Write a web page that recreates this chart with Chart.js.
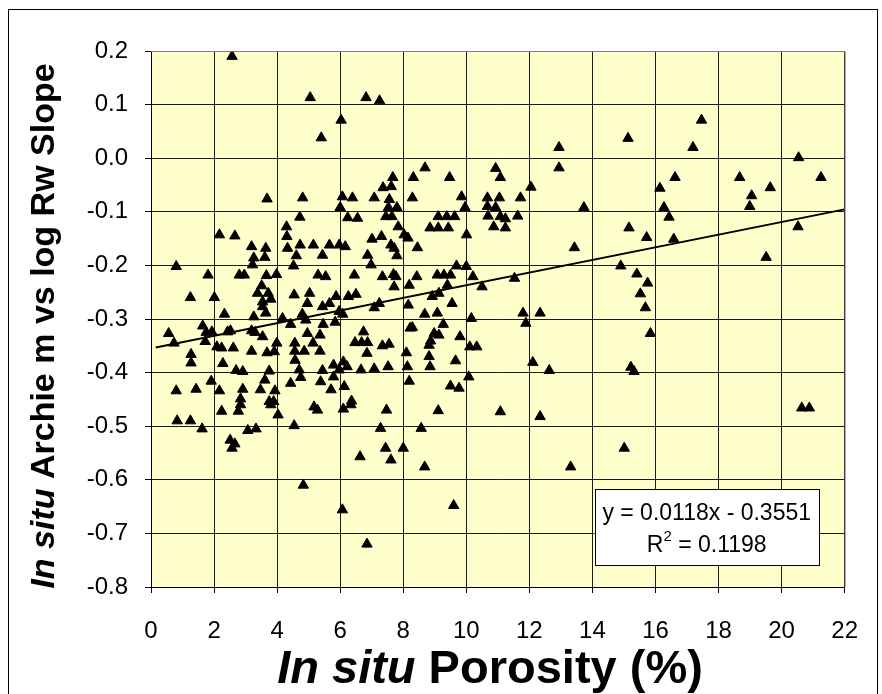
<!DOCTYPE html>
<html>
<head>
<meta charset="utf-8">
<title>In situ Archie m vs log Rw slope</title>
<script src="https://cdn.jsdelivr.net/npm/chart.js@4.4.1/dist/chart.umd.min.js"></script>
<style>
  html, body { margin: 0; padding: 0; background: #fff; }
  #wrap { position: relative; width: 882px; height: 694px; }
</style>
</head>
<body>
<div id="wrap"><canvas id="chart" width="882" height="694"></canvas></div>
<script>
/* data */
const porosity = [
  2.57, 5.05, 5.40, 3.68, 4.81, 4.72, 4.30,
  6.82, 7.25, 6.03, 8.69, 7.67, 8.32, 9.47, 10.93, 11.08, 7.36,
  7.62, 6.07, 6.39, 7.08, 7.56, 8.29, 9.85, 10.67, 11.05, 6.00,
  7.53, 7.80, 9.96, 10.67, 10.93, 6.24, 6.55, 7.45, 7.64, 9.11,
  9.38, 9.63, 10.69, 11.08,
  12.94, 15.13, 12.94, 12.05, 16.14, 16.62, 11.72, 13.73, 11.63, 11.24, 16.27, 16.43,
  17.46, 17.19, 20.54, 18.67, 19.64, 19.05, 18.99, 21.25, 20.52, 19.51, 20.64, 20.88,
  11.24, 13.43, 15.16, 15.72, 16.58, 14.90, 15.41, 15.75, 15.52, 15.68,
  15.84, 11.53, 11.80, 12.34, 11.89, 12.11, 12.63, 15.22, 15.32,
  11.08, 12.34, 15.01, 13.31, 6.10, 6.34, 7.47, 9.11, 7.28, 8.57,
  7.44, 8.00, 6.63, 7.61, 8.68, 6.07, 9.60, 6.85,
  0.83, 1.25, 1.62, 2.24, 2.77, 2.84, 3.80, 4.03, 4.54, 5.17,
  5.28, 3.07, 3.33, 2.51, 2.66, 2.57, 4.83,
  2.17, 2.66, 4.31, 3.19, 3.64, 4.33, 4.73, 5.15, 5.44, 3.26,
  3.61, 4.61, 3.22, 4.52, 0.80, 1.81, 2.80, 2.96, 3.66, 3.98,
  5.30, 5.54, 3.51, 1.25, 2.01, 3.38, 3.72, 4.54, 5.03, 3.54,
  3.80, 4.96, 5.44, 3.54, 3.64, 2.33, 3.26, 4.17, 4.80, 4.91,
  4.43, 5.46, 1.64, 0.56, 1.75, 1.93, 2.43, 2.52, 3.19, 3.30,
  3.54, 4.96, 5.36, 0.73, 1.72, 2.09, 2.24, 2.61, 3.99, 4.56,
  5.14, 3.19, 3.68, 3.91, 4.56, 4.86, 5.36, 1.27, 1.27, 4.57,
  2.28, 4.70, 2.70, 2.91, 3.75, 5.44, 4.75, 3.61, 1.91, 4.43,
  5.38, 0.80, 1.43, 2.17, 2.91, 3.47, 3.93, 2.84, 3.75, 3.89,
  7.84, 8.85, 9.11, 9.43, 10.87, 10.01, 7.01, 7.31, 8.03, 8.15,
  5.66, 5.97, 6.16, 7.61, 7.71, 8.45, 6.87, 7.80, 6.98, 9.69,
  10.00, 6.45, 7.34, 7.69, 7.77, 8.43, 9.08, 9.29, 9.50, 10.21,
  7.71, 8.19, 9.40, 10.50, 5.87, 6.26, 6.50, 5.66, 9.13, 8.92,
  7.24, 7.08, 8.16, 9.55, 5.97, 6.08, 8.68, 9.08, 5.84, 10.16,
  9.27, 6.74, 8.22, 8.29, 8.98, 9.13, 9.80, 6.47, 6.68, 6.87,
  8.87, 7.34, 7.55, 10.11, 10.33, 8.82, 6.85, 8.10, 8.82, 9.66,
  5.79, 6.10, 6.22, 5.97, 6.66, 7.08, 7.52, 8.13, 8.85, 5.79,
  10.08, 8.19, 6.13, 9.50, 9.77, 5.71, 6.36
];

const archieSlope = [
  0.190, 0.113, 0.038, -0.076, -0.074, -0.110, -0.128,
  0.113, 0.107, 0.071, -0.018, -0.036, -0.036, -0.036, -0.019, -0.036, -0.055,
  -0.053, -0.072, -0.074, -0.074, -0.077, -0.074, -0.072, -0.074, -0.074, -0.092,
  -0.092, -0.092, -0.092, -0.090, -0.092, -0.111, -0.112, -0.109, -0.109, -0.109,
  -0.109, -0.109, -0.108, -0.109,
  0.020, 0.037, -0.018, -0.054, -0.056, -0.036, -0.074, -0.092, -0.108, -0.113, -0.092, -0.110,
  0.071, 0.020, 0.001, -0.036, -0.055, -0.070, -0.090, -0.036, -0.128, -0.185, -0.466, -0.466,
  -0.130, -0.167, -0.130, -0.148, -0.151, -0.201, -0.216, -0.233, -0.253, -0.279,
  -0.327, -0.224, -0.289, -0.289, -0.308, -0.381, -0.396, -0.390, -0.398,
  -0.473, -0.482, -0.541, -0.576, -0.468, -0.460, -0.470, -0.471, -0.504, -0.504,
  -0.541, -0.541, -0.557, -0.563, -0.576, -0.656, -0.648, -0.720,
  -0.490, -0.490, -0.505, -0.472, -0.472, -0.460, -0.460, -0.479, -0.499, -0.464,
  -0.470, -0.508, -0.505, -0.526, -0.533, -0.541, -0.610,
  -0.143, -0.145, -0.146, -0.165, -0.168, -0.168, -0.162, -0.162, -0.181, -0.186,
  -0.185, -0.182, -0.199, -0.201, -0.202, -0.218, -0.218, -0.218, -0.219, -0.217,
  -0.218, -0.221, -0.238, -0.260, -0.260, -0.252, -0.252, -0.255, -0.252, -0.268,
  -0.263, -0.271, -0.277, -0.277, -0.289, -0.291, -0.296, -0.299, -0.291, -0.302,
  -0.310, -0.310, -0.313, -0.327, -0.325, -0.324, -0.324, -0.322, -0.322, -0.325,
  -0.333, -0.327, -0.330, -0.345, -0.342, -0.352, -0.354, -0.354, -0.345, -0.345,
  -0.345, -0.360, -0.363, -0.361, -0.360, -0.360, -0.360, -0.366, -0.382, -0.377,
  -0.383, -0.395, -0.396, -0.398, -0.397, -0.396, -0.409, -0.414, -0.416, -0.420,
  -0.417, -0.434, -0.431, -0.434, -0.431, -0.432, -0.434, -0.449, -0.454, -0.454,
  -0.128, -0.130, -0.130, -0.130, -0.128, -0.143, -0.151, -0.146, -0.143, -0.149,
  -0.162, -0.162, -0.165, -0.162, -0.168, -0.167, -0.181, -0.182, -0.199, -0.201,
  -0.202, -0.218, -0.221, -0.217, -0.221, -0.221, -0.218, -0.218, -0.218, -0.221,
  -0.240, -0.237, -0.237, -0.240, -0.258, -0.258, -0.254, -0.271, -0.252, -0.258,
  -0.271, -0.279, -0.274, -0.271, -0.286, -0.291, -0.291, -0.289, -0.306, -0.299,
  -0.310, -0.324, -0.317, -0.316, -0.327, -0.330, -0.333, -0.344, -0.344, -0.344,
  -0.341, -0.350, -0.347, -0.352, -0.352, -0.349, -0.364, -0.363, -0.370, -0.378,
  -0.386, -0.380, -0.389, -0.395, -0.395, -0.393, -0.389, -0.389, -0.389, -0.408,
  -0.408, -0.416, -0.426, -0.425, -0.429, -0.432, -0.453
];

// linear trend line end points (as drawn in the reference)
const trendX = [0.15, 22];
const trendY = [-0.353, -0.0955];

const xTicks = [0, 2, 4, 6, 8, 10, 12, 14, 16, 18, 20, 22];
const yTicks = [-0.8, -0.7, -0.6, -0.5, -0.4, -0.3, -0.2, -0.1, 0.0, 0.1, 0.2];
const yTickLabels = ['-0.8', '-0.7', '-0.6', '-0.5', '-0.4', '-0.3', '-0.2', '-0.1', '0.0', '0.1', '0.2'];

const xTitle = [['In situ', true], [' Porosity (%)', false]];
const yTitle = [['In situ', true], [' Archie m vs log Rw Slope', false]];
const fitLine1 = 'y = 0.0118x - 0.3551';
const fitLine2 = ['R', '2', ' = 0.1198'];

const FONT = '"Liberation Sans", Arial, Helvetica, sans-serif';

if (porosity.length !== archieSlope.length) {
    console.warn('length mismatch', porosity.length, archieSlope.length);
}

/* drawing helpers */
function drawMixed(ctx, parts, cx, baseY, size) {
    let total = 0;
    const widths = parts.map(([text, italic]) => {
        ctx.font = (italic ? 'italic ' : '') + 'bold ' + size + 'px ' + FONT;
        const w = ctx.measureText(text).width;
        total += w;
        return w;
    });
    let x = cx - total / 2;
    parts.forEach(([text, italic], i) => {
        ctx.font = (italic ? 'italic ' : '') + 'bold ' + size + 'px ' + FONT;
        ctx.fillText(text, x, baseY);
        x += widths[i];
    });
}

const plotBackground = {
    id: 'plotBackground',
    beforeDraw(chart) {
        const { ctx, chartArea: a } = chart;
        ctx.save();
        ctx.fillStyle = '#FFFFCC';
        ctx.fillRect(a.left, a.top, a.right - a.left, a.bottom - a.top);
        ctx.restore();
    },
};

const decorations = {
    id: 'decorations',
    afterDraw(chart) {
        const { ctx, chartArea: a, scales } = chart;
        ctx.save();

        // gray top / right plot border
        ctx.strokeStyle = '#808080';
        ctx.lineWidth = 1;
        ctx.beginPath();
        ctx.moveTo(a.left, a.top + 0.5);
        ctx.lineTo(a.right + 0.5, a.top + 0.5);
        ctx.lineTo(a.right + 0.5, a.bottom);
        ctx.stroke();

        // outer chart frame
        ctx.strokeStyle = '#000';
        ctx.strokeRect(8.5, 9.5, 869, 700);

        // axis titles
        ctx.fillStyle = '#000';
        ctx.textBaseline = 'alphabetic';
        drawMixed(ctx, xTitle, 490, 683, 47);
        ctx.save();
        ctx.translate(54, 326);
        ctx.rotate(-Math.PI / 2);
        drawMixed(ctx, yTitle, 0, 0, 34);
        ctx.restore();

        // regression label box
        const bx0 = scales.x.getPixelForValue(14.07);
        const bx1 = scales.x.getPixelForValue(21.18);
        const by0 = scales.y.getPixelForValue(-0.618);
        const by1 = scales.y.getPixelForValue(-0.760);
        ctx.fillStyle = '#fff';
        ctx.fillRect(bx0, by0, bx1 - bx0, by1 - by0);
        ctx.strokeStyle = '#000';
        ctx.strokeRect(Math.round(bx0) + 0.5, Math.round(by0) + 0.5, Math.round(bx1 - bx0), Math.round(by1 - by0));

        const cx = (bx0 + bx1) / 2;
        ctx.fillStyle = '#000';
        ctx.font = '23px ' + FONT;
        ctx.textAlign = 'center';
        ctx.fillText(fitLine1, cx, by0 + 31);

        ctx.textAlign = 'left';
        const wR = ctx.measureText(fitLine2[0]).width;
        const wRest = ctx.measureText(fitLine2[2]).width;
        ctx.font = '15px ' + FONT;
        const wSup = ctx.measureText(fitLine2[1]).width;
        let x = cx - (wR + wSup + wRest) / 2;
        ctx.font = '23px ' + FONT;
        ctx.fillText(fitLine2[0], x, by0 + 63);
        x += wR;
        ctx.font = '15px ' + FONT;
        ctx.fillText(fitLine2[1], x, by0 + 52);
        x += wSup;
        ctx.font = '23px ' + FONT;
        ctx.fillText(fitLine2[2], x, by0 + 63);

        ctx.restore();
    },
};

const points = porosity.map((x, i) => ({ x, y: archieSlope[i] }));
const trend = trendX.map((x, i) => ({ x, y: trendY[i] }));

new Chart(document.getElementById('chart'), {
    type: 'scatter',
    data: {
        datasets: [
            {
                label: 'Trend',
                type: 'line',
                data: trend,
                showLine: true,
                borderColor: '#000',
                borderWidth: 2,
                pointRadius: 0,
                fill: false,
                order: 0,
            },
            {
                label: 'Archie m vs log Rw slope',
                data: points,
                pointStyle: 'triangle',
                pointRadius: 6,
                backgroundColor: '#000',
                borderColor: '#000',
                borderWidth: 1,
                order: 1,
            },
        ],
    },
    options: {
        responsive: false,
        devicePixelRatio: 1,
        animation: false,
        layout: { padding: { left: 0, top: 51, right: 35, bottom: 0 } },
        plugins: {
            legend: { display: false },
            tooltip: { enabled: false },
        },
        scales: {
            x: {
                type: 'linear',
                min: 0,
                max: 22,
                afterBuildTicks: (scale) => { scale.ticks = xTicks.map((v) => ({ value: v })); },
                afterFit: (scale) => { scale.height = 107; },
                ticks: {
                    color: '#000',
                    font: { size: 24, family: FONT },
                    padding: 24,
                    maxRotation: 0,
                    callback: (v) => String(v),
                },
                grid: { color: '#1a1a1a', lineWidth: 1, tickLength: 6, tickColor: '#000' },
                border: { display: true, color: '#000', width: 1 },
            },
            y: {
                type: 'linear',
                min: -0.8,
                max: 0.2,
                afterBuildTicks: (scale) => { scale.ticks = yTicks.map((v) => ({ value: v })); },
                afterFit: (scale) => { scale.width = 151; },
                ticks: {
                    color: '#000',
                    font: { size: 24, family: FONT },
                    padding: 17,
                    callback: (v, i) => yTickLabels[i],
                },
                grid: { color: '#1a1a1a', lineWidth: 1, tickLength: 6, tickColor: '#000' },
                border: { display: true, color: '#000', width: 1 },
            },
        },
    },
    plugins: [plotBackground, decorations],
});
</script>
</body>
</html>
